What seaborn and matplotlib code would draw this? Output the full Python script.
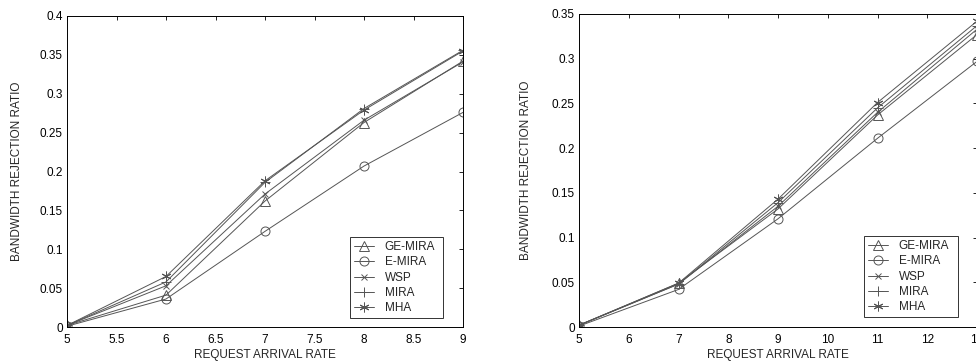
import numpy as np
import pandas as pd
import matplotlib
matplotlib.use("Agg")
import matplotlib.pyplot as plt
import seaborn as sns

series = ["GE-MIRA", "E-MIRA", "WSP", "MIRA", "MHA"]
markers = ["^", "o", "x", "+", (6, 2, 0)]
msizes = [6.5, 6.5, 4.5, 7, 7]

x_left = [5, 6, 7, 8, 9]
ge_mira_left = [0.002, 0.041, 0.162, 0.263, 0.342]
e_mira_left = [0.001, 0.036, 0.123, 0.207, 0.276]
wsp_left = [0.002, 0.053, 0.171, 0.266, 0.341]
mira_left = [0.002, 0.058, 0.186, 0.281, 0.356]
mha_left = [0.002, 0.065, 0.188, 0.279, 0.355]

x_right = [5, 7, 9, 11, 13]
ge_mira_right = [0.002, 0.049, 0.132, 0.237, 0.327]
e_mira_right = [0.001, 0.042, 0.121, 0.211, 0.297]
wsp_right = [0.002, 0.048, 0.135, 0.240, 0.333]
mira_right = [0.002, 0.048, 0.139, 0.245, 0.337]
mha_right = [0.002, 0.049, 0.143, 0.251, 0.342]

left_ticks_x = [5, 5.5, 6, 6.5, 7, 7.5, 8, 8.5, 9]
left_ticks_y = [0, 0.05, 0.1, 0.15, 0.2, 0.25, 0.3, 0.35, 0.4]
right_ticks_x = [5, 6, 7, 8, 9, 10, 11, 12, 13]
right_ticks_y = [0, 0.05, 0.1, 0.15, 0.2, 0.25, 0.3, 0.35]


def fmt(v):
    return f"{v:g}"


sns.set_theme(style="white")
plt.rcParams["font.family"] = ["Liberation Sans", "DejaVu Sans"]

fig = plt.figure(figsize=(9.76, 3.62), dpi=100)
W, H = 976, 362
ax1 = fig.add_axes([67 / W, 1 - 327 / H, (463 - 67) / W, (327 - 16) / H])
ax2 = fig.add_axes([579 / W, 1 - 327 / H, (977 - 579) / W, (327 - 14) / H])

line_color = "#555555"

configs = [
    (ax1, x_left, [ge_mira_left, e_mira_left, wsp_left, mira_left, mha_left],
     (5, 9), (0, 0.4), left_ticks_x, left_ticks_y, (350, 237, 443, 313), 12),
    (ax2, x_right, [ge_mira_right, e_mira_right, wsp_right, mira_right, mha_right],
     (5, 13), (0, 0.35), right_ticks_x, right_ticks_y, (864, 236, 958, 313), 14),
]

for ax, xs, cols, xl, yl, xt, yt, lg, ylpad in configs:
    handles = []
    for name, m, ms, vals in zip(series, markers, msizes, cols):
        df = pd.DataFrame({"x": xs, "y": vals})
        sns.lineplot(data=df, x="x", y="y", marker=m, color=line_color,
                     linewidth=0.7, markersize=ms, markeredgewidth=0.7,
                     markeredgecolor=line_color, markerfacecolor="none",
                     ax=ax, legend=False, sort=False)
        ln = ax.lines[-1]
        ln.set_markerfacecolor("none")
        ln.set_markeredgecolor(line_color)
        handles.append(ln)
    ax.set_xlim(*xl)
    ax.set_ylim(*yl)
    ax.set_xticks(xt)
    ax.set_xticklabels([fmt(v) for v in xt])
    ax.set_yticks(yt)
    ax.set_yticklabels([fmt(v) for v in yt])
    ax.tick_params(direction="in", length=3, width=0.6, top=True, right=True,
                   labelsize=8.5, colors="black", pad=3)
    ax.tick_params(axis="x", pad=5)
    for sp in ax.spines.values():
        sp.set_color("black")
        sp.set_linewidth(0.7)
    ax.set_xlabel("REQUEST ARRIVAL RATE", fontsize=8.5, labelpad=2)
    ax.set_ylabel("BANDWIDTH REJECTION RATIO", fontsize=8.5, labelpad=ylpad)
    x0, y0, x1, y1 = lg
    leg = ax.legend(handles=handles, labels=series,
                    loc="upper left",
                    bbox_to_anchor=(x0 / W, 1 - y1 / H, (x1 - x0) / W, (y1 - y0) / H),
                    bbox_transform=fig.transFigure, mode="expand",
                    fontsize=8.5, frameon=True, fancybox=False, borderpad=0.35,
                    labelspacing=0.28, handlelength=1.7, handletextpad=0.9,
                    borderaxespad=0)
    leg.get_frame().set_edgecolor("black")
    leg.get_frame().set_linewidth(0.7)

fig.savefig("out.png", dpi=100, facecolor="white")
